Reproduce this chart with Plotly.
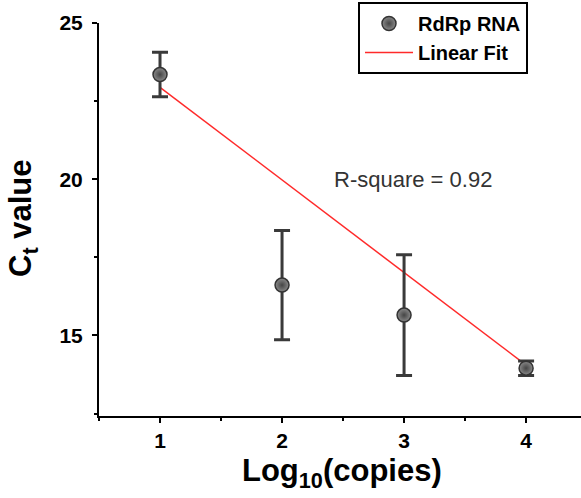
import plotly.graph_objects as go

# Data
log_copies = [1, 2, 3, 4]
ct_mean = [23.35, 16.61, 15.65, 13.95]
ct_err = [0.71, 1.75, 1.93, 0.23]
fit_x = [1, 4]
fit_y = [22.94, 14.05]
x_ticks = [1, 2, 3, 4]
y_ticks = [15, 20, 25]

FONT = "Liberation Sans, Arial, sans-serif"
W, H = 581, 498
L, R, T, B = 99, 0, 23, 82
pw, ph = W - L - R, H - T - B

fig = go.Figure()
fig.add_trace(go.Scatter(
    x=fit_x, y=fit_y, mode="lines", name="Linear Fit",
    line=dict(color="#ff2a2a", width=1.5),
))
fig.add_trace(go.Scatter(
    x=log_copies, y=ct_mean, mode="markers", name="RdRp RNA",
    marker=dict(size=14, color="#8a8a8a", line=dict(color="#333333", width=1.5),
                gradient=dict(type="radial", color="#454545")),
    error_y=dict(type="data", array=ct_err, visible=True, color="#3a3a3a",
                 thickness=3, width=8),
))

axis_common = dict(
    showline=True, linecolor="black", linewidth=2, mirror=False,
    ticks="outside", ticklen=5, tickwidth=1.5, tickcolor="black",
    showgrid=False, zeroline=False, automargin=False,
    tickfont=dict(family=FONT, size=21, color="black", weight="bold"),
)

fig.update_layout(
    width=W, height=H,
    margin=dict(l=L, r=R, t=T, b=B, autoexpand=False),
    paper_bgcolor="white", plot_bgcolor="white",
    showlegend=True,
    legend=dict(
        xref="container", yref="container",
        x=358 / W, y=1 - 2 / H, xanchor="left", yanchor="top",
        traceorder="reversed",
        font=dict(family=FONT, size=20, color="black", weight="bold"),
        bgcolor="white", bordercolor="black", borderwidth=2,
        tracegroupgap=0, itemwidth=48,
    ),
    xaxis=dict(range=[0.5, 4.45], tickvals=x_ticks,
               minor=dict(ticks="outside", ticklen=3, tick0=0.5, dtick=1, tickcolor="black"),
               ticklabelstandoff=0, **axis_common),
    yaxis=dict(range=[12.42, 25.0], tickvals=y_ticks,
               minor=dict(ticks="outside", ticklen=3, tick0=12.5, dtick=2.5, tickcolor="black"),
               ticklabelstandoff=5, **axis_common),
)

fig.add_annotation(
    text="R-square = 0.92", x=3.07, y=20.0, xref="x", yref="y",
    showarrow=False, font=dict(family=FONT, size=22, color="#333333"),
)
fig.add_annotation(
    text="C<sub>t</sub> value", x=(23 - L) / pw, y=1 - (218 - T) / ph,
    xref="paper", yref="paper", xanchor="center", yanchor="middle",
    showarrow=False, textangle=-90,
    font=dict(family=FONT, size=31, color="black", weight="bold"),
)
fig.add_annotation(
    text="Log<sub>10</sub>(copies)", x=(342 - L) / pw, y=1 - (473 - T) / ph,
    xref="paper", yref="paper", xanchor="center", yanchor="middle",
    showarrow=False,
    font=dict(family=FONT, size=31, color="black", weight="bold"),
)

fig.write_html("out.html", config={"displayModeBar": False},
               post_script="document.body.style.margin='0px';")
